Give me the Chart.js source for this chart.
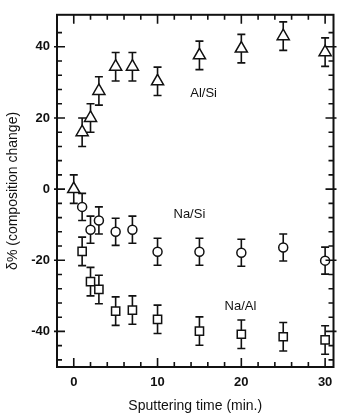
<!DOCTYPE html>
<html>
<head>
<meta charset="utf-8">
<script src="https://cdn.jsdelivr.net/npm/chart.js@4.4.1/dist/chart.umd.min.js"></script>
<style>
  html, body { margin: 0; padding: 0; background: #fff; }
  #wrap { width: 342px; height: 413px; }
</style>
</head>
<body>
<div id="wrap"><canvas id="chartRatio"></canvas></div>
<script>
// sputtering times (min.)
const timesAlSi = [0, 1, 2, 3, 5, 7, 10, 15, 20, 25, 30];
const timesNa = [1, 2, 3, 5, 7, 10, 15, 20, 25, 30];

// composition change (%)
const alSi = [0, 16, 20, 27.6, 34.4, 34.4, 30.3, 37.6, 39.5, 43, 38.5];
const naSi = [-5, -11.4, -8.8, -12, -11.4, -17.6, -17.6, -17.9, -16.4, -20.1];
const naAl = [-17.5, -26, -28.2, -34.3, -34, -36.6, -39.9, -40.8, -41.5, -42.4];

// error bar half-heights
const alSiErr = [4, 4, 4, 4, 4, 4, 4, 4, 4, 4, 4];
const naSiErr = [3.8, 3.8, 3.8, 3.8, 3.8, 3.8, 3.8, 3.8, 3.8, 3.8];
const naAlErr = [4, 4, 4, 4, 4, 4, 4, 4, 4, 4];

const xTicks = [0, 2, 4, 6, 8, 10, 12, 14, 16, 18, 20, 22, 24, 26, 28, 30];
const xLabels = [0, 10, 20, 30];
const yTicks = [-48, -44, -40, -36, -32, -28, -24, -20, -16, -12, -8, -4, 0, 4, 8, 12, 16, 20, 24, 28, 32, 36, 40, 44];
const yLabels = [-40, -20, 0, 20, 40];

const seriesNotes = [
    { text: 'Al/Si', x: 15.5, y: 27 },
    { text: 'Na/Si', x: 13.8, y: -7.2 },
    { text: 'Na/Al', x: 19.9, y: -32.9 }
];

const FONT = "'Liberation Sans', Arial, sans-serif";

function toPoints(xs, ys, errs) {
    let pts = [];
    for (let i = 0; i < xs.length; i++) {
        pts.push({ x: xs[i], y: ys[i], err: errs[i] });
    }
    return pts;
}

function markerSet(label, xs, ys, errs, style, radius) {
    return {
        label: label,
        data: toPoints(xs, ys, errs),
        pointStyle: style,
        pointRadius: radius,
        pointHoverRadius: radius,
        pointBackgroundColor: '#fff',
        pointBorderColor: '#111',
        pointBorderWidth: 1.5,
        showLine: false
    };
}

// vertical error bars with caps, drawn under the markers
const errorBars = {
    id: 'errorBars',
    beforeDatasetsDraw(chart) {
        const ctx = chart.ctx;
        const xs = chart.scales.x, ys = chart.scales.y;
        ctx.save();
        ctx.strokeStyle = '#111';
        ctx.lineWidth = 1.6;
        chart.data.datasets.forEach(ds => {
            ds.data.forEach(p => {
                const px = xs.getPixelForValue(p.x);
                const top = ys.getPixelForValue(p.y + p.err);
                const bot = ys.getPixelForValue(p.y - p.err);
                ctx.beginPath();
                ctx.moveTo(px, top); ctx.lineTo(px, bot);
                ctx.moveTo(px - 4, top); ctx.lineTo(px + 4, top);
                ctx.moveTo(px - 4, bot); ctx.lineTo(px + 4, bot);
                ctx.stroke();
            });
        });
        ctx.restore();
    }
};

// box frame with inward ticks on all four sides, plus series names
const frame = {
    id: 'frame',
    afterDraw(chart) {
        const ctx = chart.ctx;
        const a = chart.chartArea;
        const xs = chart.scales.x, ys = chart.scales.y;
        ctx.save();
        ctx.strokeStyle = '#111';
        ctx.lineWidth = 2;
        ctx.strokeRect(a.left, a.top, a.right - a.left, a.bottom - a.top);

        ctx.lineWidth = 1.6;
        ctx.beginPath();
        xTicks.forEach(v => {
            const px = xs.getPixelForValue(v);
            const len = xLabels.includes(v) ? 9 : 5;
            ctx.moveTo(px, a.bottom); ctx.lineTo(px, a.bottom - len);
            ctx.moveTo(px, a.top); ctx.lineTo(px, a.top + len);
        });
        yTicks.forEach(v => {
            const py = ys.getPixelForValue(v);
            const major = yLabels.includes(v);
            const len = major ? 8 : 5;
            const out = major ? 3 : 0;
            ctx.moveTo(a.left - out, py); ctx.lineTo(a.left + len, py);
            ctx.moveTo(a.right + out, py); ctx.lineTo(a.right - len, py);
        });
        ctx.stroke();

        ctx.fillStyle = '#111';
        ctx.font = '13px ' + FONT;
        ctx.textAlign = 'center';
        ctx.textBaseline = 'middle';
        seriesNotes.forEach(n => {
            ctx.fillText(n.text, xs.getPixelForValue(n.x), ys.getPixelForValue(n.y));
        });
        ctx.restore();
    }
};

new Chart(document.getElementById('chartRatio'), {
    type: 'scatter',
    data: {
        datasets: [
            markerSet('Al/Si', timesAlSi, alSi, alSiErr, 'triangle', 7),
            markerSet('Na/Si', timesNa, naSi, naSiErr, 'circle', 4.5),
            markerSet('Na/Al', timesNa, naAl, naAlErr, 'rect', 5.8)
        ]
    },
    options: {
        responsive: true,
        maintainAspectRatio: false,
        animation: false,
        layout: { padding: { top: 14, right: 7, left: 0, bottom: 0 } },
        plugins: {
            legend: { display: false },
            tooltip: { enabled: false }
        },
        scales: {
            x: {
                type: 'linear',
                min: -2,
                max: 31,
                afterFit: s => { s.height = 46; },
                afterBuildTicks: s => { s.ticks = xTicks.map(v => ({ value: v })); },
                grid: { display: false, drawTicks: false },
                border: { display: false },
                ticks: {
                    padding: 8,
                    color: '#111',
                    maxRotation: 0,
                    autoSkip: false,
                    font: { family: FONT, size: 13, weight: 'bold' },
                    callback: v => xLabels.includes(v) ? String(v) : ''
                },
                title: {
                    display: true,
                    text: 'Sputtering time (min.)',
                    color: '#111',
                    font: { family: FONT, size: 14, lineHeight: 1 },
                    padding: { top: 0, bottom: 0 }
                }
            },
            y: {
                type: 'linear',
                min: -50,
                max: 49,
                afterFit: s => { s.width = 57; },
                afterBuildTicks: s => { s.ticks = yTicks.map(v => ({ value: v })); },
                grid: { display: false, drawTicks: false },
                border: { display: false },
                ticks: {
                    padding: 7,
                    color: '#111',
                    autoSkip: false,
                    font: { family: FONT, size: 13, weight: 'bold' },
                    callback: v => yLabels.includes(v) ? String(v) : ''
                },
                title: {
                    display: true,
                    text: 'δ% (composition change)',
                    color: '#111',
                    font: { family: FONT, size: 14, lineHeight: 1 },
                    padding: { top: 6, bottom: 0 }
                }
            }
        }
    },
    plugins: [errorBars, frame]
});
</script>
</body>
</html>
